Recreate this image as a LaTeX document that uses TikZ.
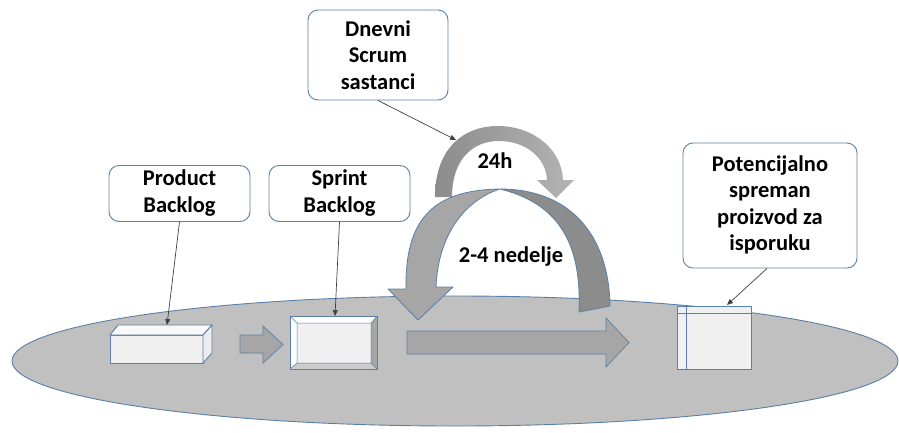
\documentclass[tikz,border=0pt]{standalone}
\usepackage{fontspec}
\setmainfont{Carlito}
\usetikzlibrary{arrows.meta}
\definecolor{edgeblue}{HTML}{5A7FA8}
\definecolor{basegray}{HTML}{C0C0C0}
\definecolor{arrowgray}{HTML}{A6A6A6}
\definecolor{darkarrow}{HTML}{8C8C8C}
\definecolor{facelight}{HTML}{F0F0F0}
\definecolor{ptrgray}{HTML}{404040}
\newcommand{\calloutlines}[1]{\begin{tabular}[t]{@{}c@{}}#1\end{tabular}}
\tikzset{
  callout/.style={draw=edgeblue, line width=0.9pt, rounded corners=10pt, fill=white,
    align=center, font=\bfseries\fontsize{22.5}{26.5}\selectfont, inner sep=0pt, text height=20pt},
  flatarrow/.style={draw=edgeblue, line width=0.7pt, fill=arrowgray},
  boxface/.style={draw=edgeblue, line width=0.9pt, line join=round},
  ptr/.style={draw=ptrgray, line width=0.7pt, -{Triangle[length=6pt,width=5pt]}},
  lbl/.style={font=\bfseries\fontsize{22.5}{26.5}\selectfont, inner sep=0pt}
}
\begin{document}
\begin{tikzpicture}[x=1pt,y=-1pt]
\useasboundingbox (0,0) rectangle (899,432);

% base plane
\draw[draw=edgeblue, line width=0.9pt, fill=basegray] (455,361) ellipse [x radius=443, y radius=65];

% product backlog block
\draw[boxface, fill=facelight] (110,335) rectangle (203,363);
\draw[boxface, fill=white!95!gray] (110,335) -- (118,325) -- (212,325) -- (203,335) -- cycle;
\draw[boxface, fill=white!85!gray] (203,335) -- (212,325) -- (212,353) -- (203,363) -- cycle;

% small arrow
\draw[flatarrow] (240,335) -- (263,335) -- (263,326) -- (283,344.5) -- (263,363) -- (263,353) -- (240,353) -- cycle;

% sprint backlog block (bevelled)
\fill[white] (290,316) -- (377,316) -- (371,323) -- (297,323) -- cycle;
\fill[white] (290,316) -- (297,323) -- (297,363) -- (290,369) -- cycle;
\fill[arrowgray] (377,316) -- (377,369) -- (371,363) -- (371,323) -- cycle;
\fill[white!60!gray] (290,369) -- (297,363) -- (371,363) -- (377,369) -- cycle;
\fill[facelight] (297,323) rectangle (371,363);
\draw[edgeblue, line width=0.5pt] (290,316) -- (297,323) (377,316) -- (371,323)
  (290,369) -- (297,363) (377,369) -- (371,363) (297,323) rectangle (371,363);
\draw[boxface] (290,316) rectangle (377,369);

% long arrow
\draw[flatarrow] (407,331) -- (606,331) -- (606,318) -- (629,342.5) -- (606,367) -- (606,354) -- (407,354) -- cycle;

% finished product block
\draw[boxface, fill=facelight] (677,306) rectangle (751,369);
\draw[boxface] (677,313) -- (751,313) (686,306) -- (686,369);

% daily loop arrow
\shade[left color=darkarrow, right color=arrowgray!85!white]
  (435,197) .. controls (435,150) and (462,126) .. (498,126)
  .. controls (534,126) and (562,150) .. (563,180)
  -- (574,180) -- (556,198) -- (537,180) -- (547,180)
  .. controls (546,158) and (526,141) .. (499,141)
  .. controls (472,141) and (452,160) .. (452,197) -- cycle;
\node[lbl] (t24) at (495,161) {24h};

% sprint loop arrow
\fill[darkarrow] (500,189) .. controls (570,189) and (609,235) .. (610,306)
  -- (579,312) .. controls (582,240) and (556,203) .. (500,189) -- cycle;
\fill[arrowgray] (500,189) .. controls (430,190) and (405,222) .. (406,289)
  -- (388,289) -- (418,320) -- (453,287) -- (436,287)
  .. controls (438,235) and (465,200) .. (500,189) -- cycle;
\draw[edgeblue, line width=0.8pt, line join=round]
  (610,306) .. controls (609,235) and (570,189) .. (500,189)
  .. controls (430,190) and (405,222) .. (406,289)
  -- (388,289) -- (418,320) -- (453,287) -- (436,287)
  .. controls (438,235) and (465,200) .. (500,189)
  .. controls (556,203) and (582,240) .. (579,312) -- cycle;
\node[lbl] (t24n) at (511,256) {2-4 nedelje};

% callouts (first baseline placed through text height / text depth)
\node[callout, minimum width=141pt, minimum height=51pt, text depth=36pt] (pb) at (179.5,193.5)
  {\calloutlines{Product\\Backlog}};
\node[callout, minimum width=141pt, minimum height=51pt, text depth=36pt] (sb) at (339.5,193.5)
  {\calloutlines{Sprint\\Backlog}};
\node[callout, minimum width=140pt, minimum height=90pt, text depth=58pt] (ds) at (378,55)
  {\calloutlines{Dnevni\\Scrum\\sastanci}};
\node[callout, minimum width=174pt, minimum height=125pt, text depth=89pt] (pp) at (770,205.5)
  {\calloutlines{Potencijalno\\spreman\\proizvod za\\isporuku}};

% pointer targets
\coordinate (pbtip) at (167,325);
\coordinate (sbtip) at (335,316);
\coordinate (dstip) at (456,140);
\coordinate (pptip) at (727,305);

\draw[ptr] (pb.south) -- (pbtip);
\draw[ptr] (sb.south) -- (sbtip);
\draw[ptr] (ds.south) -- (dstip);
\draw[ptr] ([xshift=-3pt]pp.south) -- (pptip);
\end{tikzpicture}
\end{document}
